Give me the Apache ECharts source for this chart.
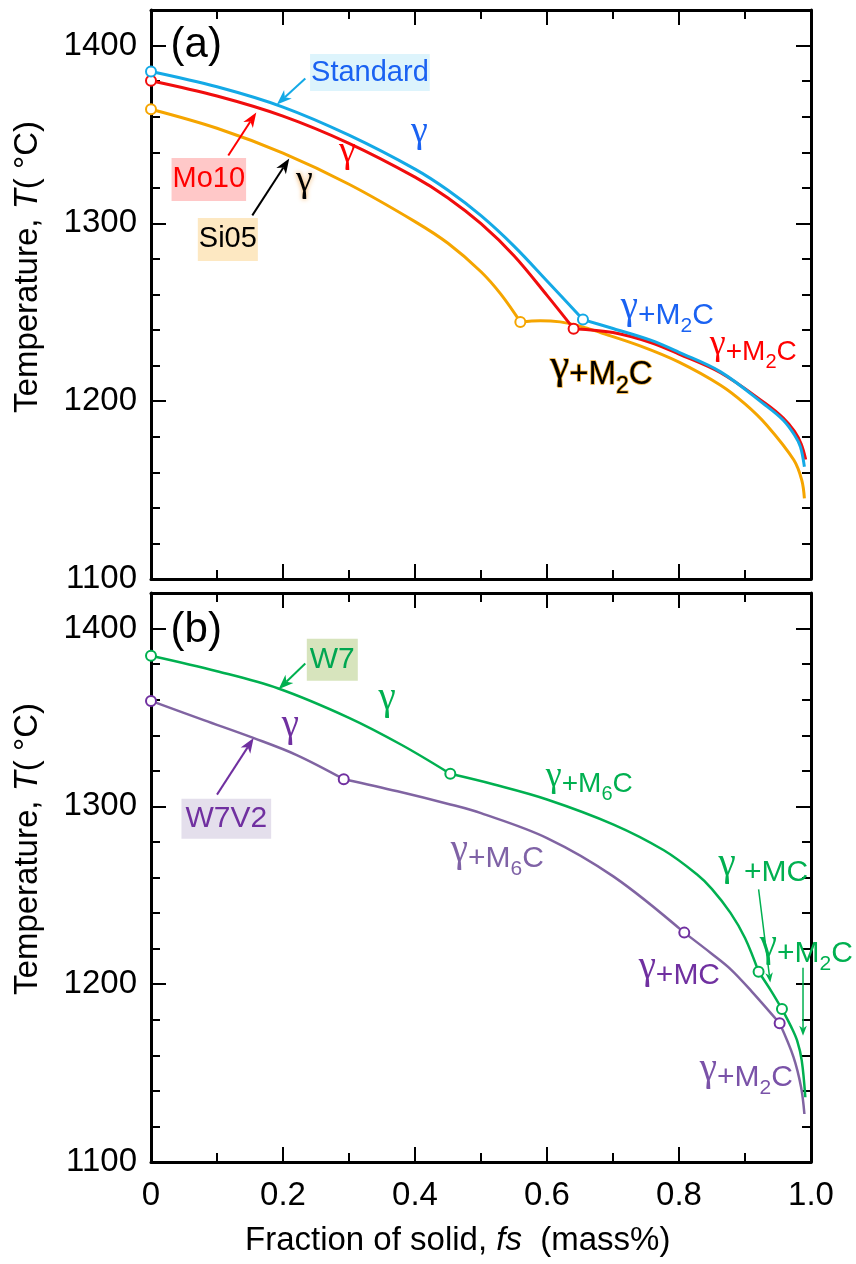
<!DOCTYPE html>
<html>
<head>
<meta charset="utf-8">
<script src="https://cdn.jsdelivr.net/npm/echarts@6/dist/echarts.min.js"></script>
<style>
  html, body { margin: 0; padding: 0; background: #fff; }
  #chart { width: 856px; height: 1264px; }
</style>
</head>
<body>
<div id="chart"></div>
<script>
// Solidification paths: temperature against fraction of solid.
const fsTicks = [0, 0.2, 0.4, 0.6, 0.8, 1.0];
const tempTicks = [1100, 1200, 1300, 1400];
const tempTop = 1420;

// (a) Standard / Mo10 / Si05, split at the start of M2C formation
const standardGamma = [[0,1385.4],[0.1,1376.8],[0.2,1365.4],[0.3,1349.6],[0.4,1330.5],[0.45,1318.6],[0.5,1304.3],[0.55,1287.2],[0.6,1267.6],[0.6545,1245.9]];
const standardM2C = [[0.6545,1245.9],[0.7,1240.9],[0.757,1234.3],[0.8,1227.5],[0.863,1216.5],[0.93,1198.0],[0.958,1189.3],[0.975,1181.0],[0.984,1174.3],[0.990,1163.1]];
const mo10Gamma = [[0,1380.2],[0.1,1371.6],[0.2,1360.3],[0.3,1345.0],[0.4,1326.0],[0.45,1314.3],[0.5,1299.8],[0.55,1281.8],[0.6,1259.5],[0.6403,1240.8]];
const mo10M2C = [[0.6403,1240.8],[0.7,1238.6],[0.757,1233.0],[0.8,1226.5],[0.863,1216.0],[0.93,1199.0],[0.958,1190.5],[0.975,1183.0],[0.985,1176.0],[0.992,1167.2]];
const si05Gamma = [[0,1364.2],[0.1,1353.5],[0.2,1339.5],[0.3,1322.0],[0.4,1301.0],[0.45,1288.8],[0.5,1272.8],[0.53,1260.2],[0.5596,1244.6]];
const si05M2C = [[0.5596,1244.6],[0.59,1245.3],[0.62,1244.6],[0.65,1242.2],[0.681,1238.6],[0.742,1231.0],[0.8,1222.0],[0.863,1209.0],[0.9,1198.5],[0.933,1186.5],[0.974,1166.9],[0.986,1155.6],[0.990,1145.3]];

// (b) W7 / W7V2, split at each new carbide
const w7Gamma = [[0,1384.7],[0.1,1376.0],[0.193,1366.3],[0.3,1349.8],[0.38,1334.5],[0.4535,1318.3]];
const w7M6C = [[0.4535,1318.3],[0.52,1312.3],[0.6,1303.9],[0.7,1289.9],[0.777,1275.3],[0.827,1261.8],[0.85,1253.5],[0.878,1240.1],[0.9,1226.0],[0.9206,1207.0]];
const w7MC = [[0.9206,1207.0],[0.94,1196.0],[0.956,1186.0]];
const w7M2C = [[0.956,1186.0],[0.97,1176.0],[0.979,1168.2],[0.986,1157.0],[0.9914,1136.4]];
const w7v2Gamma = [[0,1359.3],[0.08,1348.5],[0.155,1338.5],[0.22,1329.0],[0.292,1315.3]];
const w7v2M6C = [[0.292,1315.3],[0.3735,1308.5],[0.4535,1301.1],[0.5,1296.2],[0.6,1282.2],[0.701,1260.5],[0.808,1229.0]];
const w7v2MC = [[0.808,1229.0],[0.85,1217.0],[0.878,1208.5],[0.91,1196.0],[0.9525,1178.0]];
const w7v2M2C = [[0.9525,1178.0],[0.9735,1159.0],[0.985,1142.0],[0.990,1127.0]];

const SANS = '"Liberation Sans", Arial, Helvetica, sans-serif';
const SERIF = '"Liberation Serif", "Times New Roman", serif';

const C = {
  standard: '#14a9e6', mo10: '#f00d0d', si05: '#f5a500',
  w7: '#00b050', w7v2Line: '#8064a2', w7v2Mark: '#7030a0'
};

// text annotations, placed in (fs, T) units
const notesA = [
  { text: '{t|(a)}', at: [0.0686, 1400.0], color: '#000', size: 42 },
  { text: '{t|Standard}', at: [0.3317, 1384.8], color: '#1a62f2', size: 29, bg: '#ddf4fc', pad: [2, 1] },
  { text: '{t|Mo10}', at: [0.0876, 1324.7], color: '#ff0000', size: 29, bg: '#ffc8c8', pad: [5, 1] },
  { text: '{t|Si05}', at: [0.1164, 1291.0], color: '#000', size: 29, bg: '#fde8c2', pad: [5, 1] },
  { text: '{g|γ}', at: [0.4065, 1346.6], color: '#1a62f2', size: 29 },
  { text: '{g|γ}', at: [0.2974, 1335.4], color: '#ff0000', size: 29 },
  { text: '{g|γ}', at: [0.2323, 1319.1], color: '#000', size: 29, glow: '#f0a040' },
  { text: '{g|γ}{t|+M}{s|2}{t|C}', at: [0.7823, 1248.3], color: '#1a62f2', size: 30 },
  { text: '{g|γ}{t|+M}{s|2}{t|C}', at: [0.9126, 1227.5], color: '#ff0000', size: 28 },
  { text: '{g|γ}{t|+M}{s|2}{t|C}', at: [0.6823, 1214.6], color: '#000', size: 33, outline: '#f7b030' }
];
const notesB = [
  { text: '{t|(b)}', at: [0.0686, 1399.2], color: '#000', size: 42 },
  { text: '{t|W7}', at: [0.2747, 1382.4], color: '#00a651', size: 30, bg: '#d7e4bd', pad: [4, 3] },
  { text: '{t|W7V2}', at: [0.1141, 1293.0], color: '#7030a0', size: 30, bg: '#e4dfec', pad: [3, 4] },
  { text: '{g|γ}', at: [0.3576, 1356.1], color: '#00b050', size: 30 },
  { text: '{g|γ}', at: [0.2111, 1341.1], color: '#7030a0', size: 30 },
  { text: '{g|γ}{t|+M}{s|6}{t|C}', at: [0.6641, 1312.3], color: '#00b050', size: 28 },
  { text: '{g|γ}{t|+M}{s|6}{t|C}', at: [0.5247, 1270.3], color: '#7f62a6', size: 30 },
  { text: '{g|γ}{t| +MC}', at: [0.9277, 1262.4], color: '#00b050', size: 30 },
  { text: '{g|γ}{t|+M}{s|2}{t|C}', at: [0.9929, 1217.0], color: '#00b050', size: 30 },
  { text: '{g|γ}{t|+MC}', at: [0.8005, 1204.6], color: '#7030a0', size: 30 },
  { text: '{g|γ}{t|+M}{s|2}{t|C}', at: [0.9020, 1147.4], color: '#7a52a8', size: 30 }
];

// leader arrows: [fs1, T1, fs2, T2], head at the second point
const arrowsA = [
  { seg: [0.2338, 1381.5, 0.1907, 1366.9], color: C.standard, head: 15, width: 2 },
  { seg: [0.1171, 1338.2, 0.1595, 1362.4], color: '#ff0000', head: 15, width: 2 },
  { seg: [0.1535, 1304.5, 0.2095, 1336.5], color: '#000', head: 15, width: 2 }
];
const arrowsB = [
  { seg: [0.2338, 1380.3, 0.1933, 1365.9], color: C.w7, head: 15, width: 2 },
  { seg: [0.1000, 1306.6, 0.1555, 1338.4], color: C.w7v2Mark, head: 15, width: 2 },
  { seg: [0.9206, 1253.3, 0.9383, 1200.9], color: C.w7, head: 10, width: 1.5 },
  { seg: [0.9879, 1209.3, 0.9879, 1171.0], color: C.w7, head: 10, width: 1.5 }
];

function richFor(n) {
  const extra = {};
  if (n.outline) { extra.textBorderColor = n.outline; extra.textBorderWidth = 1.6; }
  else { extra.textBorderWidth = 0; }
  if (n.glow) { extra.textShadowColor = n.glow; extra.textShadowBlur = 5; }
  const base = Object.assign({ color: n.color, fontFamily: SANS, fontSize: n.size, lineHeight: n.size + 4 }, extra);
  const gSize = Math.round(n.size * 1.3);
  return {
    t: base,
    g: Object.assign({}, base, { fontFamily: SERIF, fontSize: gSize, lineHeight: 10, padding: [0, 0, Math.round(gSize * 0.42), 0] }),
    s: Object.assign({}, base, { fontSize: Math.round(n.size * 0.7), lineHeight: 10, padding: [Math.round(n.size * 0.7), 0, 0, 0] })
  };
}

function noteSeries(xi, yi, notes) {
  return {
    type: 'scatter', xAxisIndex: xi, yAxisIndex: yi, symbolSize: 1, silent: true, clip: false, z: 30,
    itemStyle: { color: 'rgba(0,0,0,0)', opacity: 1 },
    data: notes.map(n => ({
      value: n.at,
      label: {
        show: true, position: 'inside', formatter: n.text, rich: richFor(n),
        textBorderWidth: 0,
        backgroundColor: n.bg || 'transparent',
        padding: n.pad || 0
      }
    }))
  };
}

function arrowSeries(xi, yi, arrows) {
  return {
    type: 'custom', xAxisIndex: xi, yAxisIndex: yi, silent: true, clip: false, z: 25,
    data: arrows.map(a => a.seg),
    renderItem(params, api) {
      const a = arrows[params.dataIndex];
      const p1 = api.coord([api.value(0), api.value(1)]);
      const p2 = api.coord([api.value(2), api.value(3)]);
      const dx = p2[0] - p1[0], dy = p2[1] - p1[1];
      const len = Math.hypot(dx, dy);
      const ux = dx / len, uy = dy / len;
      const h = a.head, w = a.head * 0.38;
      const bx = p2[0] - ux * h, by = p2[1] - uy * h;
      const nx = p2[0] - ux * h * 0.72, ny = p2[1] - uy * h * 0.72;
      return {
        type: 'group',
        children: [
          { type: 'line', shape: { x1: p1[0], y1: p1[1], x2: nx, y2: ny },
            style: { stroke: a.color, lineWidth: a.width } },
          { type: 'polygon',
            shape: { points: [[p2[0], p2[1]], [bx - uy * w, by + ux * w], [nx, ny], [bx + uy * w, by - ux * w]] },
            style: { fill: a.color } }
        ]
      };
    }
  };
}

function curve(xi, yi, data, color, width) {
  return {
    type: 'line', xAxisIndex: xi, yAxisIndex: yi, data, showSymbol: false, smooth: 0.35,
    clip: false, z: 10, silent: true,
    lineStyle: { color, width }
  };
}

// open circles where each path starts and where each new phase appears
function marks(xi, yi, segments, color) {
  const pts = segments.map(s => s[0]);
  return {
    type: 'scatter', xAxisIndex: xi, yAxisIndex: yi, data: pts, symbol: 'circle', symbolSize: 10,
    clip: false, z: 15, silent: true,
    itemStyle: { color: '#fff', borderColor: color, borderWidth: 2, opacity: 1 }
  };
}

const tickLine = { color: '#000', width: 2 };
function xAx(gridIndex, position, showLabels) {
  return {
    type: 'value', gridIndex, position,
    min: fsTicks[0], max: fsTicks[fsTicks.length - 1], interval: fsTicks[1] - fsTicks[0],
    axisLine: { show: true, onZero: false, lineStyle: { color: '#000', width: 3 } },
    axisTick: { show: true, inside: true, length: 15, lineStyle: tickLine },
    minorTick: { show: true, splitNumber: 2, length: 9, lineStyle: tickLine },
    axisLabel: {
      show: showLabels, margin: 17, fontSize: 33, color: '#000', fontFamily: SANS,
      formatter: v => (Math.abs(v) < 1e-9 ? '0' : v.toFixed(1))
    },
    splitLine: { show: false }, minorSplitLine: { show: false }
  };
}
function yAx(gridIndex, position, major, showLine, showLabels) {
  return {
    type: 'value', gridIndex, position,
    min: tempTicks[0], max: tempTop, interval: major ? tempTicks[1] - tempTicks[0] : 20,
    axisLine: { show: showLine, onZero: false, lineStyle: { color: '#000', width: 3 } },
    axisTick: { show: true, inside: true, length: major ? 15 : 9, lineStyle: tickLine },
    axisLabel: {
      show: showLabels, margin: 14, fontSize: 33, color: '#000', fontFamily: SANS,
      showMaxLabel: false, formatter: v => String(Math.round(v))
    },
    splitLine: { show: false }
  };
}

const chart = echarts.init(document.getElementById('chart'), null, { renderer: 'canvas' });

const titleRich = { i: { fontFamily: SANS, fontSize: 33, fontStyle: 'italic', fill: '#000' } };

const option = {
  animation: false,
  backgroundColor: '#fff',
  grid: [
    { left: 151, right: 45, top: 10, height: 569, outerBoundsMode: 'none' },
    { left: 151, right: 45, top: 593, height: 569, outerBoundsMode: 'none' }
  ],
  xAxis: [
    xAx(0, 'bottom', false), xAx(0, 'top', false),
    xAx(1, 'bottom', true), xAx(1, 'top', false)
  ],
  yAxis: [
    yAx(0, 'left', true, true, true), yAx(0, 'left', false, false, false),
    yAx(0, 'right', true, true, false), yAx(0, 'right', false, false, false),
    yAx(1, 'left', true, true, true), yAx(1, 'left', false, false, false),
    yAx(1, 'right', true, true, false), yAx(1, 'right', false, false, false)
  ],
  graphic: [
    {
      type: 'text', x: 245, y: 1241, silent: true,
      style: {
        text: 'Fraction of solid, {i|fs}  (mass%)',
        fontFamily: SANS, fontSize: 33, fill: '#000', align: 'left', verticalAlign: 'middle',
        rich: titleRich
      }
    },
    {
      type: 'text', x: 28, y: 267, rotation: Math.PI / 2, silent: true,
      style: {
        text: 'Temperature, {i|T}( °C)',
        fontFamily: SANS, fontSize: 33, fill: '#000', align: 'center', verticalAlign: 'middle',
        rich: titleRich
      }
    },
    {
      type: 'text', x: 28, y: 849, rotation: Math.PI / 2, silent: true,
      style: {
        text: 'Temperature, {i|T}( °C)',
        fontFamily: SANS, fontSize: 33, fill: '#000', align: 'center', verticalAlign: 'middle',
        rich: titleRich
      }
    }
  ],
  series: [
    // (a)
    curve(0, 0, si05Gamma, C.si05, 3), curve(0, 0, si05M2C, C.si05, 3),
    curve(0, 0, mo10Gamma, C.mo10, 3), curve(0, 0, mo10M2C, C.mo10, 3),
    curve(0, 0, standardGamma, C.standard, 3), curve(0, 0, standardM2C, C.standard, 3),
    marks(0, 0, [si05Gamma, si05M2C], C.si05),
    marks(0, 0, [mo10Gamma, mo10M2C], C.mo10),
    marks(0, 0, [standardGamma, standardM2C], C.standard),
    arrowSeries(0, 0, arrowsA),
    noteSeries(0, 0, notesA),
    // (b)
    curve(2, 4, w7v2Gamma, C.w7v2Line, 2.5), curve(2, 4, w7v2M6C, C.w7v2Line, 2.5),
    curve(2, 4, w7v2MC, C.w7v2Line, 2.5), curve(2, 4, w7v2M2C, C.w7v2Line, 2.5),
    curve(2, 4, w7Gamma, C.w7, 2.5), curve(2, 4, w7M6C, C.w7, 2.5),
    curve(2, 4, w7MC, C.w7, 2.5), curve(2, 4, w7M2C, C.w7, 2.5),
    marks(2, 4, [w7v2Gamma, w7v2M6C, w7v2MC, w7v2M2C], C.w7v2Mark),
    marks(2, 4, [w7Gamma, w7M6C, w7MC, w7M2C], C.w7),
    arrowSeries(2, 4, arrowsB),
    noteSeries(2, 4, notesB)
  ]
};

chart.setOption(option);
</script>
</body>
</html>
